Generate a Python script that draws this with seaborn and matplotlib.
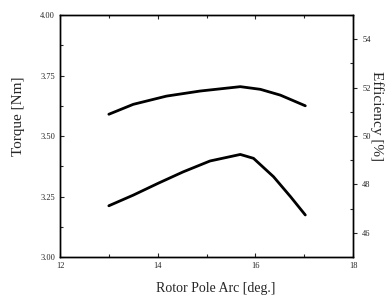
import seaborn as sns
import matplotlib.pyplot as plt
import pandas as pd
from matplotlib.ticker import MultipleLocator

# values
pole_arc_t = [13.0, 13.5, 14.18, 14.87, 15.69, 16.1, 16.51, 17.02]
torque = [3.590, 3.631, 3.665, 3.686, 3.704, 3.693, 3.669, 3.625]

pole_arc_e = [13.0, 13.5, 14.01, 14.52, 15.07, 15.69, 15.96, 16.37, 16.72, 17.02]
efficiency = [47.12, 47.56, 48.05, 48.52, 48.97, 49.24, 49.08, 48.32, 47.49, 46.74]

x_ticks = [12, 14, 16, 18]
torque_ticks = [3.00, 3.25, 3.50, 3.75, 4.00]
eff_ticks = [46, 48, 50, 52, 54]

sns.set_style("ticks")
plt.rcParams['font.family'] = ['Liberation Serif', 'DejaVu Serif']

torque_df = pd.DataFrame({'arc': pole_arc_t, 'torque': torque})
eff_df = pd.DataFrame({'arc': pole_arc_e, 'eff': efficiency})

fig = plt.figure(figsize=(3.92, 3.0), dpi=100)
ax = fig.add_axes([0.153, 0.143, 0.748, 0.807])
sns.lineplot(data=torque_df, x='arc', y='torque', ax=ax, color='black', linewidth=2.0)
ax.set_xlim(12, 18)
ax.set_ylim(3.0, 4.0)
ax.set_xticks(x_ticks)
ax.set_yticks(torque_ticks)
ax.set_yticklabels([f"{v:.2f}" for v in torque_ticks])
ax.xaxis.set_minor_locator(MultipleLocator(1))
ax.yaxis.set_minor_locator(MultipleLocator(0.125))
ax.tick_params(axis='both', which='both', direction='in', labelsize=6, width=0.8)
ax.tick_params(axis='both', which='major', length=3)
ax.tick_params(axis='both', which='minor', length=2)
ax.tick_params(axis='x', top=True, which='both')
ax.set_xlabel("Rotor Pole Arc [deg.]", fontsize=10, va='center')
ax.set_ylabel("Torque [Nm]", fontsize=11, va='center')
ax.xaxis.set_label_coords(0.53, -0.128)
ax.yaxis.set_label_coords(-0.143, 0.583)

ax2 = ax.twinx()
sns.lineplot(data=eff_df, x='arc', y='eff', ax=ax2, color='black', linewidth=2.0)
ax2.set_ylim(45, 55)
ax2.set_yticks(eff_ticks)
ax2.yaxis.set_minor_locator(MultipleLocator(1))
ax2.tick_params(axis='y', which='major', direction='out', length=3, labelsize=6, width=0.8)
ax2.tick_params(axis='y', which='minor', direction='in', length=2, width=0.8)
ax2.set_ylabel("Efficiency [%]", fontsize=11, rotation=-90, va='center')
ax2.yaxis.set_label_coords(1.082, 0.583)

for a in (ax, ax2):
    for s in a.spines.values():
        s.set_linewidth(1.0)
        s.set_color('black')

fig.savefig("out.png", dpi=100)
